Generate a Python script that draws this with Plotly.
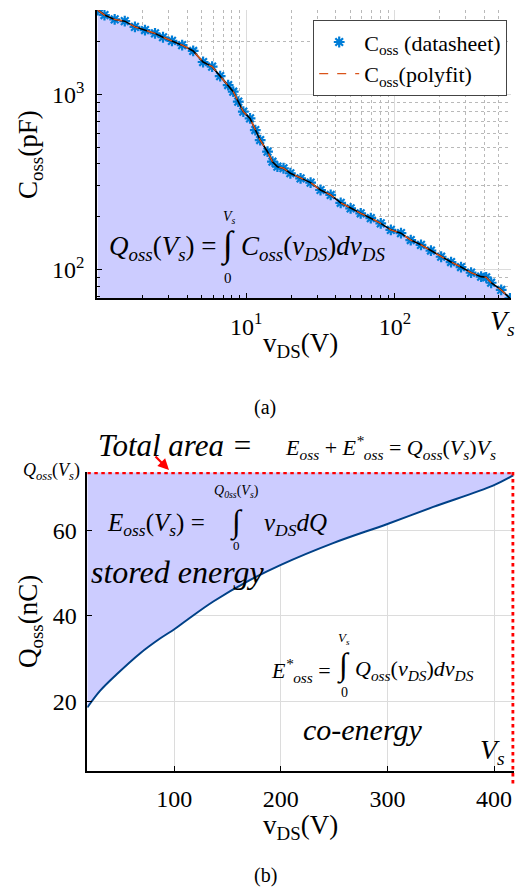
import plotly.graph_objects as go

W, H = 519, 889
FONT = "Liberation Serif, Times New Roman, serif"

# ---------------- data ----------------
# (a) Coss vs vDS (datasheet points, log-log)
vds_datasheet = [1.0, 1.11, 1.30, 1.52, 1.78, 2.08, 2.43, 2.75, 3.16, 3.70, 4.39, 5.12, 5.89,
                 6.67, 7.55, 8.17, 8.83, 9.55, 10.6, 11.5, 12.4, 13.9, 15.0, 16.2, 17.8, 19.8,
                 23.2, 27.1, 31.6, 37.0, 43.2, 50.4, 58.9, 68.9, 80.4, 94.0, 110, 128, 150,
                 175, 205, 239, 279, 326, 381, 412, 445, 520, 595]
coss_datasheet = [3030, 2840, 2680, 2620, 2430, 2330, 2230, 2120, 2020, 1910, 1770, 1530, 1440,
                  1270, 1130, 1035, 908, 796, 729, 625, 548, 470, 412, 386, 378, 354,
                  331, 313, 284, 266, 240, 223, 209, 196, 183, 168, 161, 147, 138,
                  128, 118, 110, 103, 95.7, 90.8, 90.0, 83.8, 76.2, 68.3]

# (b) Qoss vs vDS
vds_q = [18.4, 30.3, 46, 67.8, 86.6, 100.7, 111.6, 136.6, 170, 200, 249, 300, 343, 399, 418]
qoss = [18.5, 22.4, 26.3, 31.2, 34.7, 37.0, 39.0, 43.4, 48.3, 52.0, 57.1, 61.6, 65.6, 70.6, 73.0]
Vs = 418
Qoss_Vs = 73.7

x_ticks_a = [10, 100]
x_ticktext_a = ["10<sup>1</sup>", "10<sup>2</sup>"]
y_ticks_a = [100, 1000]
y_ticktext_a = ["10<sup>2</sup>", "10<sup>3</sup>"]
x_ticks_b = [100, 200, 300, 400]
y_ticks_b = [20, 40, 60]

# ---------------- helpers ----------------
def px(x):
    return x / W

def py(y):
    return 1 - y / H

FILL = "rgb(204,204,255)"
BLUE_MK = "rgb(0,125,215)"
ORANGE = "#D95319"
GRID = "rgb(220,220,220)"

fig = go.Figure()

# ---- (a) ----
fig.add_trace(go.Scatter(x=vds_datasheet, y=coss_datasheet, mode="lines",
                         line=dict(color="rgba(0,0,0,0)", width=0), fill="tozeroy",
                         fillcolor=FILL, showlegend=False, hoverinfo="skip",
                         xaxis="x", yaxis="y"))
fig.add_trace(go.Scatter(x=vds_datasheet, y=coss_datasheet, mode="markers",
                         marker=dict(symbol="asterisk-open", size=9, color=BLUE_MK,
                                     line=dict(color=BLUE_MK, width=2.2)),
                         name="C<sub>oss</sub> (datasheet)", xaxis="x", yaxis="y"))
fig.add_trace(go.Scatter(x=vds_datasheet, y=coss_datasheet, mode="lines",
                         line=dict(color="black", width=1.6), showlegend=False,
                         xaxis="x", yaxis="y"))
fig.add_trace(go.Scatter(x=vds_datasheet, y=coss_datasheet, mode="lines",
                         line=dict(color=ORANGE, width=1.4, dash="dash"),
                         name="C<sub>oss</sub>(polyfit)", xaxis="x", yaxis="y"))

# ---- (b) ----
fig.add_trace(go.Scatter(x=vds_q, y=[Qoss_Vs] * len(vds_q), mode="lines",
                         line=dict(color="rgba(0,0,0,0)", width=0), showlegend=False,
                         hoverinfo="skip", xaxis="x2", yaxis="y2"))
fig.add_trace(go.Scatter(x=vds_q, y=qoss, mode="lines", fill="tonexty", fillcolor=FILL,
                         line=dict(color="rgb(0,65,135)", width=2, shape="spline",
                                   smoothing=1.0),
                         showlegend=False, xaxis="x2", yaxis="y2"))

axis_common = dict(showline=True, linecolor="black", linewidth=1.5, mirror=False,
                   tickfont=dict(family=FONT, size=24, color="black"),
                   ticks="inside", tickcolor="black", ticklen=5, zeroline=False)

fig.update_layout(
    width=W, height=H,
    margin=dict(l=0, r=0, t=0, b=0),
    paper_bgcolor="white", plot_bgcolor="white",
    font=dict(family=FONT, color="black"),
    xaxis=dict(domain=[px(97), px(511)], type="log", range=[-0.005, 2.782],
               tickvals=x_ticks_a, ticktext=x_ticktext_a, showgrid=True, gridcolor=GRID,
               gridwidth=1, anchor="y", ticklabelstandoff=6,
               minor=dict(tickvals=[2, 3, 4, 5, 6, 7, 8, 9, 20, 30, 40, 50, 60, 70, 80, 90,
                                    200, 300, 400, 500, 600],
                          ticks="inside", ticklen=3, tickcolor="black", showgrid=True,
                          gridcolor="rgb(185,185,185)", griddash="dot", gridwidth=1),
               **axis_common),
    yaxis=dict(domain=[py(298), py(10)], type="log", range=[1.836, 3.482],
               tickvals=y_ticks_a, ticktext=y_ticktext_a, showgrid=True, gridcolor=GRID,
               gridwidth=1, anchor="x", ticklabelstandoff=6,
               minor=dict(tickvals=[70, 80, 90, 200, 300, 400, 500, 600, 700, 800, 900,
                                    2000, 3000],
                          ticks="inside", ticklen=3, tickcolor="black", showgrid=True,
                          gridcolor="rgb(185,185,185)", griddash="dot", gridwidth=1),
               **axis_common),
    xaxis2=dict(domain=[px(87.3), px(514.3)], range=[18.4, 419], tickvals=x_ticks_b,
                showgrid=True, gridcolor=GRID, gridwidth=1, anchor="y2",
                ticklabelstandoff=5, **axis_common),
    yaxis2=dict(domain=[py(771), py(472)], range=[3.6, 73.8], tickvals=y_ticks_b,
                showgrid=True, gridcolor=GRID, gridwidth=1, anchor="x2",
                ticklabelstandoff=4, **axis_common),
    legend=dict(x=px(313), y=py(20), xanchor="left", yanchor="top",
                bgcolor="white", bordercolor="#444", borderwidth=1.2,
                font=dict(family=FONT, size=22, color="black"), traceorder="normal",
                itemwidth=40, tracegroupgap=2),
)

# red dashed boundary lines (total area)
fig.add_shape(type="line", xref="x2", yref="y2", x0=18.4, x1=Vs, y0=Qoss_Vs, y1=Qoss_Vs,
              line=dict(color="red", width=3.5, dash="dot"))
fig.add_shape(type="line", xref="x2", yref="paper", x0=Vs, x1=Vs, y0=py(472), y1=py(785),
              line=dict(color="red", width=3.5, dash="dot"))

ann = []

def A(text, x, y, size, xanchor="center", yanchor="middle", angle=0, color="black"):
    ann.append(dict(text=text, x=px(x), y=py(y), xref="paper", yref="paper",
                    xanchor=xanchor, yanchor=yanchor, showarrow=False, textangle=angle,
                    font=dict(family=FONT, size=size, color=color)))

# ---- (a) texts ----
A("C<sub>oss</sub>(pF)", 30, 155, 27, angle=-90)
A("v<sub>DS</sub>(V)", 300, 345, 27)
A("<i>V<sub>s</sub></i>", 502, 322, 28)
A("(a)", 265, 407, 20)
A("<i>Q<sub>oss</sub></i>(<i>V<sub>s</sub></i>) =", 218, 248, 27, xanchor="right")
A("∫", 228, 245, 36)
A("<i>C<sub>oss</sub></i>(<i>v<sub>DS</sub></i>)<i>dv<sub>DS</sub></i>", 239, 248, 27,
  xanchor="left")
A("<i>V<sub>s</sub></i>", 229, 217, 14)
A("0", 228, 278, 15)

# ---- (b) texts ----
A("<i>Total area =</i>", 175, 446, 31)
A("<i>E<sub>oss</sub></i> + <i>E<sup>*</sup><sub>oss</sub></i> = <i>Q<sub>oss</sub></i>(<i>V<sub>s</sub></i>)<i>V<sub>s</sub></i>",
  390, 447, 22)
A("<i>Q<sub>oss</sub></i>(<i>V<sub>s</sub></i>)", 82, 471, 18, xanchor="right")
A("<i>E<sub>oss</sub></i>(<i>V<sub>s</sub></i>) =", 207, 524, 25, xanchor="right")
A("∫", 236, 522, 32)
A("<i>v<sub>DS</sub>dQ</i>", 262, 524, 25, xanchor="left")
A("<i>Q<sub>0ss</sub></i>(<i>V<sub>s</sub></i>)", 236, 491, 14)
A("0", 236, 545, 13)
A("<i>stored energy</i>", 177, 572, 32)
A("<i>E<sup>*</sup><sub>oss</sub></i> =", 333, 670, 22, xanchor="right")
A("∫", 343, 665, 32)
A("<i>Q<sub>oss</sub></i>(<i>v<sub>DS</sub></i>)<i>dv<sub>DS</sub></i>", 353, 670, 22,
  xanchor="left")
A("<i>V<sub>s</sub></i>", 344, 638, 13)
A("0", 344, 692, 14)
A("<i>co-energy</i>", 362, 729, 30)
A("<i>V<sub>s</sub></i>", 492, 751, 28)
A("Q<sub>oss</sub>(nC)", 30, 622, 27, angle=-90)
A("v<sub>DS</sub>(V)", 300, 827, 27)
A("(b)", 265, 875, 20)

# red arrow
ann.append(dict(x=px(169), y=py(470), xref="paper", yref="paper", text="",
                showarrow=True, ax=-15, ay=-15, arrowhead=2, arrowsize=1,
                arrowwidth=2.2, arrowcolor="red"))

fig.update_layout(annotations=ann)
fig.write_html("out.html", config={"displayModeBar": False},
               post_script="document.body.style.margin='0';document.body.style.overflow='hidden';")
